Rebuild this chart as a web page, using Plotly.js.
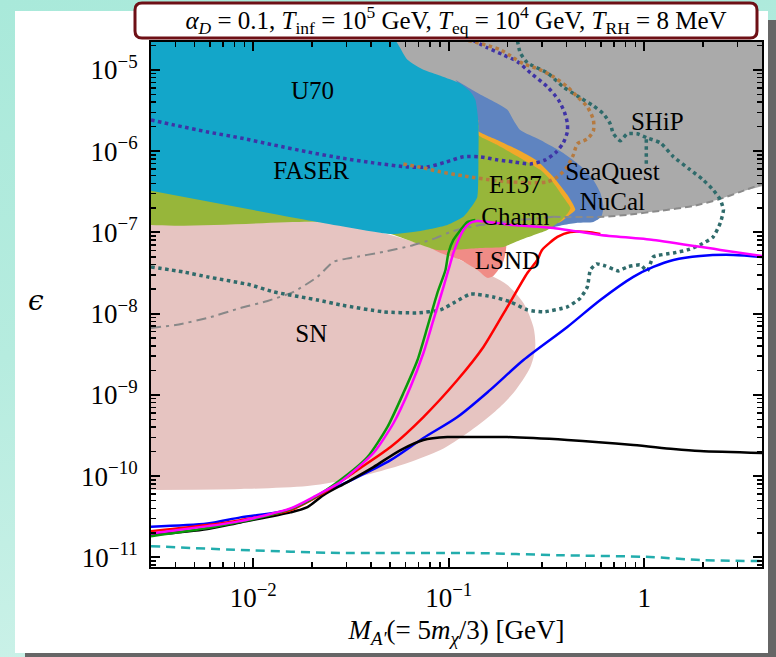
<!DOCTYPE html>
<html>
<head>
<meta charset="utf-8">
<script src="https://cdn.plot.ly/plotly-3.0.1.min.js"></script>
<style>
  html, body { margin:0; padding:0; }
  body { width:776px; height:657px; overflow:hidden; position:relative;
         background: linear-gradient(170deg, #a9e9da 0%, #b6ecdf 45%, #d2f3eb 100%); }
  #card { position:absolute; left:15px; top:11px; width:753px; height:642px; background:#ffffff;
          box-shadow: 10px 9px 0 #666666; }
  #plot { position:absolute; left:0; top:0; width:776px; height:657px; }
</style>
</head>
<body>
<div id="card"></div>
<div id="plot"></div>
<script>
// ---------------- axis ticks ----------------
const xTicks = [0.01, 0.1, 1];
const xTickText = ['10<sup>\u22122</sup>', '10<sup>\u22121</sup>', '1'];
const yTicks = [1e-11, 1e-10, 1e-9, 1e-8, 1e-7, 1e-6, 1e-5];
const yTickText = ['10<sup>\u221211</sup>', '10<sup>\u221210</sup>', '10<sup>\u22129</sup>', '10<sup>\u22128</sup>',
                   '10<sup>\u22127</sup>', '10<sup>\u22126</sup>', '10<sup>\u22125</sup>'];
const minorDigits = [2, 3, 4, 5, 6, 7, 8, 9];

// ---------------- shaded regions ----------------
const grayX = [0.0486, 4.5, 4.5, 3.10, 2.45, 1.78, 1.21, 0.818, 0.618, 0.372, 0.129, 0.0567, 0.0448];
const grayY = [3e-5, 3e-5, 3.95e-7, 3.15e-7, 2.58e-7, 2.11e-7, 1.84e-7, 1.64e-7, 1.55e-7, 1.34e-7, 1.01e-7, 2.5e-7, 4.3e-6];

const snX = [0.0025, 0.0213, 0.0504, 0.0875, 0.129, 0.169, 0.1995, 0.241, 0.271, 0.277, 0.2615, 0.214, 0.169, 0.1246, 0.0907, 0.0615, 0.0412, 0.0279, 0.01894, 0.00861, 0.0025];
const snY = [1.34e-7, 1.34e-7, 9.29e-8, 6.07e-8, 3.97e-8, 2.83e-8, 2.25e-8, 1.35e-8, 6.84e-9, 3.88e-9, 2.20e-9, 1.05e-9, 5.97e-10, 3.39e-10, 2.09e-10, 1.45e-10, 1.09e-10, 8.69e-11, 7.54e-11, 6.92e-11, 6.73e-11];

const lsndX = [0.0806, 0.195, 0.190, 0.169, 0.1576, 0.140, 0.115, 0.0907, 0.0806];
const lsndY = [8.06e-8, 8.06e-8, 4.33e-8, 2.90e-8, 2.75e-8, 3.44e-8, 4.57e-8, 5.57e-8, 6.43e-8];

const nucalX = [0.108, 0.1368, 0.163, 0.1995, 0.214, 0.232, 0.294, 0.385, 0.471, 0.549, 0.596, 0.618, 0.603, 0.549, 0.455, 0.385, 0.129, 0.129];
const nucalY = [7.53e-6, 5.36e-6, 4.27e-6, 3.22e-6, 2.42e-6, 1.82e-6, 1.37e-6, 9.5e-7, 6.58e-7, 4.42e-7, 3.06e-7, 2.06e-7, 1.55e-7, 1.34e-7, 1.31e-7, 1.23e-7, 8.06e-8, 4.27e-6];

const orangeX = [0.1418, 0.1418, 0.1773, 0.232, 0.284, 0.343, 0.404, 0.444, 0.409, 0.372, 0.129, 0.0717];
const orangeY = [2.42e-6, 1.77e-6, 1.37e-6, 1.0e-6, 7.56e-7, 4.81e-7, 2.89e-7, 1.89e-7, 1.59e-7, 1.34e-7, 8.06e-8, 2.51e-7];

const e137X = [0.0025, 0.0025, 0.0213, 0.0504, 0.0875, 0.145, 0.190, 0.232, 0.319, 0.372, 0.404, 0.419, 0.385, 0.343, 0.294, 0.232, 0.1773, 0.1418, 0.1418, 0.0567];
const e137Y = [3.52e-7, 1.34e-7, 1.34e-7, 9.55e-8, 6.07e-8, 6.43e-8, 6.61e-8, 8.06e-8, 1.07e-7, 1.38e-7, 1.69e-7, 2.0e-7, 2.73e-7, 4.06e-7, 5.87e-7, 8.24e-7, 1.19e-6, 1.58e-6, 2.10e-6, 4.42e-7];

const cyanX = [0.0025, 0.0486, 0.0615, 0.0742, 0.0907, 0.115, 0.129, 0.1368, 0.1418, 0.1418, 0.140, 0.1306, 0.1188, 0.0984, 0.0717, 0.0504, 0.0213, 0.0025];
const cyanY = [3e-5, 3e-5, 1.33e-5, 1e-5, 8.44e-6, 6.73e-6, 5.36e-6, 4.27e-6, 2.22e-6, 7.16e-7, 2.73e-7, 2.06e-7, 1.55e-7, 1.23e-7, 1.04e-7, 9.55e-8, 1.34e-7, 3.52e-7];

// ---------------- boundary / projection curves ----------------
const dashDotX = [0.003, 0.00401, 0.00584, 0.00861, 0.01183, 0.01606, 0.0213, 0.0257, 0.0314, 0.0463, 0.0637, 0.0835, 0.102, 0.1368, 0.207, 0.343];
const dashDotY = [6.65e-9, 7.24e-9, 8.83e-9, 1.17e-8, 1.43e-8, 1.85e-8, 2.83e-8, 4.33e-8, 4.84e-8, 5.74e-8, 6.81e-8, 8.30e-8, 1.01e-7, 1.20e-7, 1.38e-7, 1.55e-7];
const dashX = [0.343, 0.618, 0.818, 1.21, 1.78, 2.45, 3.10, 4.0];
const dashY = [1.55e-7, 1.55e-7, 1.64e-7, 1.84e-7, 2.11e-7, 2.58e-7, 3.15e-7, 3.95e-7];

const shipX = [0.003, 0.0044, 0.00584, 0.00968, 0.0127, 0.0213, 0.0279, 0.0463, 0.0692, 0.0907, 0.108, 0.129, 0.169, 0.207, 0.2524, 0.305, 0.404, 0.471, 0.5114, 0.530, 0.569, 0.632, 0.737, 0.818, 0.954, 1.037, 1.112, 1.41, 1.66, 1.93, 2.25, 2.45, 2.54, 2.45, 2.25, 2.00, 1.72, 1.41, 1.21, 1.037, 0.921, 0.818, 0.754, 0.695, 0.670, 0.618, 0.549, 0.471, 0.385, 0.319, 0.2524, 0.232, 0.2244];
const shipY = [3.75e-8, 3.25e-8, 2.83e-8, 2.25e-8, 1.85e-8, 1.47e-8, 1.28e-8, 1.05e-8, 1.02e-8, 1.11e-8, 1.39e-8, 1.74e-8, 1.60e-8, 1.39e-8, 1.11e-8, 1.05e-8, 1.21e-8, 1.55e-8, 2.13e-8, 3.44e-8, 4.08e-8, 3.86e-8, 3.35e-8, 3.75e-8, 3.97e-8, 3.35e-8, 4.98e-8, 5.57e-8, 6.07e-8, 7.0e-8, 8.77e-8, 1.31e-7, 1.89e-7, 2.51e-7, 3.33e-7, 4.42e-7, 5.87e-7, 8.49e-7, 1.26e-6, 1.45e-6, 1.63e-6, 1.63e-6, 1.34e-6, 1.63e-6, 2.16e-6, 2.87e-6, 3.60e-6, 4.52e-6, 6.18e-6, 9.18e-6, 1.22e-5, 1.62e-5, 2.3e-5];
const shipSpurX = [1.024, 1.024];
const shipSpurY = [1.40e-6, 6.38e-7];

const faser2X = [0.003, 0.00391, 0.00584, 0.00861, 0.0127, 0.01894, 0.0279, 0.0412, 0.0615, 0.0778, 0.0973, 0.1188, 0.145, 0.1773, 0.214, 0.2615, 0.312, 0.355, 0.385, 0.404, 0.404, 0.390, 0.3636, 0.319, 0.2615, 0.2244, 0.190, 0.1576, 0.1336];
const faser2Y = [2.42e-6, 2.10e-6, 1.72e-6, 1.45e-6, 1.19e-6, 9.77e-7, 8.24e-7, 7.16e-7, 6.38e-7, 6.38e-7, 7.36e-7, 8.49e-7, 8.49e-7, 7.79e-7, 7.36e-7, 6.95e-7, 7.79e-7, 9.77e-7, 1.26e-6, 1.72e-6, 2.22e-6, 3.04e-6, 4.27e-6, 6.18e-6, 9.18e-6, 1.26e-5, 1.53e-5, 1.87e-5, 2.3e-5];

const seaquestX = [0.0586, 0.0742, 0.0907, 0.1188, 0.1773, 0.2615, 0.319, 0.3594, 0.3995, 0.4338, 0.455, 0.5114, 0.549, 0.549, 0.5114, 0.455, 0.404, 0.343, 0.294, 0.241, 0.214, 0.184, 0.154, 0.126];
const seaquestY = [6.95e-7, 6.21e-7, 5.54e-7, 4.95e-7, 4.30e-7, 4.06e-7, 4.18e-7, 4.81e-7, 6.21e-7, 8.98e-7, 1.23e-6, 1.41e-6, 1.77e-6, 2.42e-6, 3.50e-6, 4.65e-6, 6.18e-6, 8.20e-6, 1e-5, 1.19e-5, 1.41e-5, 1.76e-5, 2.03e-5, 2.3e-5];

const cyanDashX = [0.003, 0.00861, 0.0279, 0.1336, 0.372, 1.07, 1.93, 4.0];
const cyanDashY = [1.37e-11, 1.23e-11, 1.13e-11, 1.13e-11, 1.06e-11, 1.01e-11, 9.24e-12, 8.98e-12];

// ---------------- model curves ----------------
const blueX = [0.003, 0.00584, 0.00861, 0.01552, 0.02287, 0.0341, 0.0504, 0.0742, 0.1107, 0.163, 0.241, 0.404, 0.596, 0.879, 1.112, 1.41, 1.93, 2.85, 4.0];
const blueY = [2.38e-11, 2.60e-11, 3.10e-11, 3.89e-11, 6.18e-11, 9.73e-11, 1.57e-10, 2.94e-10, 5.33e-10, 1.15e-9, 2.68e-9, 6.84e-9, 1.47e-8, 2.83e-8, 3.75e-8, 4.57e-8, 5.12e-8, 5.27e-8, 4.98e-8];

const blackX = [0.003, 0.00584, 0.00861, 0.01552, 0.01894, 0.02287, 0.0303, 0.0412, 0.0567, 0.0742, 0.0984, 0.1336, 0.1995, 0.404, 0.879, 1.41, 1.93, 4.0];
const blackY = [1.88e-11, 2.23e-11, 2.69e-11, 3.57e-11, 4.15e-11, 5.83e-11, 8.44e-11, 1.29e-10, 2.09e-10, 2.78e-10, 3.02e-10, 3.02e-10, 3.02e-10, 2.78e-10, 2.41e-10, 2.15e-10, 2.03e-10, 1.92e-10];

const redX = [0.003, 0.00584, 0.00861, 0.01552, 0.02287, 0.0341, 0.0504, 0.0742, 0.1107, 0.1504, 0.1995, 0.2524, 0.284, 0.300, 0.3594, 0.419, 0.5114, 0.596];
const redY = [2.10e-11, 2.5e-11, 2.87e-11, 3.81e-11, 6.18e-11, 1.19e-10, 2.28e-10, 5.33e-10, 1.52e-9, 3.88e-9, 1.21e-8, 3.16e-8, 4.57e-8, 6.07e-8, 8.77e-8, 1.01e-7, 1.01e-7, 9.55e-8];

const greenX = [0.003, 0.00584, 0.00861, 0.01052, 0.01552, 0.0203, 0.0279, 0.0384, 0.0486, 0.0586, 0.0692, 0.0778, 0.0875, 0.0962, 0.0996, 0.1056, 0.115, 0.1246, 0.1368];
const greenY = [1.82e-11, 2.29e-11, 2.74e-11, 3.04e-11, 3.93e-11, 5.36e-11, 8.93e-11, 1.71e-10, 4.02e-10, 1.05e-9, 2.68e-9, 6.84e-9, 1.80e-8, 3.44e-8, 5.57e-8, 8.06e-8, 1.07e-7, 1.34e-7, 1.42e-7];

const magentaX = [0.003, 0.00584, 0.00861, 0.01552, 0.0203, 0.0279, 0.0412, 0.0522, 0.0637, 0.0742, 0.0835, 0.0940, 0.0996, 0.1056, 0.1120, 0.1188, 0.129, 0.140, 0.214, 0.343, 0.596, 1.112, 2.45, 4.0];
const magentaY = [1.97e-11, 2.42e-11, 2.79e-11, 4.0e-11, 5.51e-11, 8.44e-11, 1.92e-10, 4.50e-10, 1.25e-9, 3.27e-9, 8.34e-9, 2.13e-8, 3.44e-8, 5.57e-8, 8.06e-8, 1.07e-7, 1.31e-7, 1.38e-7, 1.23e-7, 1.13e-7, 9.29e-8, 8.06e-8, 6.07e-8, 5.12e-8];

// ---------------- region labels ----------------
const labelText = ['U70', 'FASER', 'SHiP', 'SeaQuest', 'NuCal', 'E137', 'Charm', 'LSND', 'SN'];
const labelX = [0.0201, 0.0198, 1.166, 0.687, 0.687, 0.219, 0.219, 0.1995, 0.0198];
const labelY = [5.21e-6, 5.39e-7, 2.16e-6, 5.24e-7, 2.24e-7, 3.62e-7, 1.46e-7, 4.20e-8, 5.30e-9];

// ---------------- build ----------------
const SERIF = 'Liberation Serif, Times New Roman, serif';
function region(x, y, color, smooth) {
  return {x, y, type:'scatter', mode:'lines', fill:'toself', fillcolor:color,
          line:{width:0, color:color, shape: smooth ? 'spline' : 'linear', smoothing: smooth || 0},
          hoverinfo:'skip', showlegend:false};
}
function curve(x, y, color, width, dash, smooth) {
  return {x, y, type:'scatter', mode:'lines',
          line:{color, width, dash: dash || 'solid', shape:'spline', smoothing: smooth === undefined ? 0.8 : smooth},
          hoverinfo:'skip', showlegend:false};
}

const data = [
  region(grayX, grayY, '#aaaaaa', 0),
  region(snX, snY, '#e6c4c1', 0.8),
  region(lsndX, lsndY, '#f08c86', 0.6),
  region(nucalX, nucalY, '#5f84c0', 0.6),
  region(orangeX, orangeY, '#f2a82a', 0.5),
  region(e137X, e137Y, '#97b63a', 0.5),
  region(cyanX, cyanY, '#13a6c9', 0.5),
  curve(dashDotX, dashDotY, '#888888', 2, '10px,5px,3px,5px', 0.6),
  curve(dashX, dashY, '#8a8a8a', 2, '7px,4px', 0.6),
  curve(shipX, shipY, '#2f6b6b', 3.5, 'dot', 0.5),
  curve(shipSpurX, shipSpurY, '#2f6b6b', 3.5, 'dot', 0),
  curve(faser2X, faser2Y, '#3f33a6', 3.5, 'dot', 0.7),
  curve(seaquestX, seaquestY, '#b57a40', 3.5, 'dot', 0.7),
  curve(cyanDashX, cyanDashY, '#22adad', 2.5, '9px,6px', 0.6),
  curve(blueX, blueY, '#0000ff', 2.5),
  curve(blackX, blackY, '#000000', 2.5),
  curve(redX, redY, '#ff0000', 2.5, 'solid', 0.6),
  curve(greenX, greenY, '#0a9a0a', 2.5, 'solid', 0.6),
  curve(magentaX, magentaY, '#ff00ff', 2.5, 'solid', 0.6),
  // region labels: drawn on the overlay axes (same ranges), which also carry the minor ticks
  {x:labelX, y:labelY, text:labelText, type:'scatter', mode:'text', textposition:'middle center',
   xaxis:'x2', yaxis:'y2',
   textfont:{family:SERIF, size:25, color:'#000000'}, hoverinfo:'skip', showlegend:false}
];

// minor tick positions (2..9 x each decade)
function minorVals(lo, hi) {
  const v = [];
  for (let e = lo; e <= hi; e++) minorDigits.forEach(d => v.push(d * Math.pow(10, e)));
  return v;
}

// plot area in pixels: left 151, right 762, top 42, bottom 567
const L = 151, R = 762, T = 42, B = 567, W = 776, H = 657;
const px = p => (p - L) / (R - L);
const py = p => (B - p) / (B - T);
const bx0 = px(135), bx1 = px(757), byt = py(3), byb = py(38);
const rx = 7 / (R - L), ry = 7 / (B - T);
const boxPath = `M ${bx0+rx},${byt} L ${bx1-rx},${byt} Q ${bx1},${byt} ${bx1},${byt-ry} L ${bx1},${byb+ry} ` +
                `Q ${bx1},${byb} ${bx1-rx},${byb} L ${bx0+rx},${byb} Q ${bx0},${byb} ${bx0},${byb+ry} ` +
                `L ${bx0},${byt-ry} Q ${bx0},${byt} ${bx0+rx},${byt} Z`;

const xRange = [Math.log10(0.003), Math.log10(4)];
const yRange = [Math.log10(7.6e-12), Math.log10(2.2e-5)];

const axisCommon = {
  type:'log', showgrid:false, zeroline:false, showline:true, linecolor:'#000', linewidth:2,
  mirror:'ticks', ticks:'inside', ticklen:9, tickwidth:2, tickcolor:'#000',
  tickfont:{family:SERIF, size:27, color:'#000'}, layer:'above traces'
};
const minorAxis = {
  type:'log', autorange:false, showgrid:false, zeroline:false, showline:true, linecolor:'#000', linewidth:2,
  mirror:'ticks', ticks:'inside', ticklen:5, tickwidth:1.5, tickcolor:'#000',
  showticklabels:false, tickmode:'array', layer:'above traces'
};

const layout = {
  width:W, height:H,
  margin:{l:L, r:W-R, t:T, b:H-B},
  paper_bgcolor:'rgba(0,0,0,0)', plot_bgcolor:'#ffffff',
  showlegend:false,
  title:{
    text:'<i>α</i><sub><i>D</i></sub> = 0.1, <i>T</i><sub>inf</sub> = 10<sup>5</sup> GeV, <i>T</i><sub>eq</sub> = 10<sup>4</sup> GeV, <i>T</i><sub>RH</sub> = 8 MeV',
    font:{family:SERIF, size:25, color:'#000'},
    xref:'paper', x:px(456), xanchor:'center',
    yref:'container', y:1 - 20 / H, yanchor:'middle'
  },
  xaxis: Object.assign({}, axisCommon, {
    range:xRange, autorange:false,
    tickmode:'array', tickvals:xTicks, ticktext:xTickText, ticklabelstandoff:6,
    title:{text:'<i>M</i><sub><i>A′</i></sub>(= 5<i>m</i><sub><i>χ</i></sub>/3) [GeV]', font:{family:SERIF, size:27, color:'#000'}, standoff:8}
  }),
  yaxis: Object.assign({}, axisCommon, {
    range:yRange, autorange:false,
    tickmode:'array', tickvals:yTicks, ticktext:yTickText, ticklabelstandoff:6
  }),
  xaxis2: Object.assign({}, minorAxis, {overlaying:'x', anchor:'y2', side:'bottom', range:xRange, tickvals:minorVals(-3, 0)}),
  yaxis2: Object.assign({}, minorAxis, {overlaying:'y', anchor:'x2', side:'left', range:yRange, tickvals:minorVals(-12, -5)}),
  shapes:[{type:'path', xref:'paper', yref:'paper', path:boxPath, layer:'below',
           line:{color:'#6e1016', width:3}, fillcolor:'#ffffff'}],
  annotations:[{xref:'paper', yref:'paper', x:px(36), y:py(300), xanchor:'center', yanchor:'middle',
                text:'<i>ϵ</i>', showarrow:false, font:{family:'DejaVu Serif, serif', size:28, color:'#000'}}]
};

Plotly.newPlot('plot', data, layout, {displayModeBar:false, staticPlot:true});
</script>
</body>
</html>
